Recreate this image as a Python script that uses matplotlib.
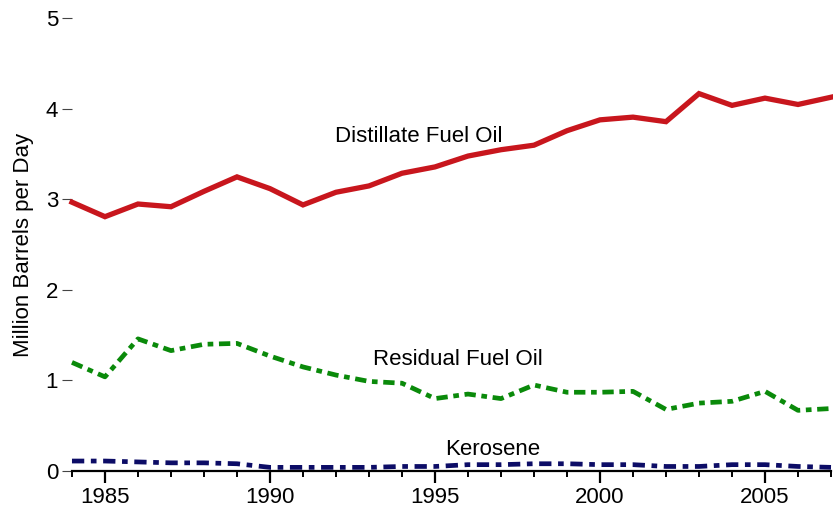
import matplotlib.pyplot as plt
import numpy as np
from matplotlib.ticker import MultipleLocator

plt.rcParams['font.family'] = ['Liberation Sans', 'DejaVu Sans']

# Annual product supplied, million barrels per day
years = np.arange(1984, 2008)
distillate = [2.97, 2.81, 2.95, 2.92, 3.09, 3.25, 3.12, 2.94, 3.08, 3.15, 3.29, 3.36,
              3.48, 3.55, 3.60, 3.76, 3.88, 3.91, 3.86, 4.17, 4.04, 4.12, 4.05, 4.13]
residual = [1.20, 1.04, 1.46, 1.33, 1.40, 1.41, 1.27, 1.15, 1.06, 0.99, 0.97, 0.80,
            0.85, 0.80, 0.95, 0.87, 0.87, 0.88, 0.68, 0.75, 0.77, 0.88, 0.67, 0.69]
kerosene = [0.11, 0.11, 0.10, 0.09, 0.09, 0.08, 0.04, 0.04, 0.04, 0.04, 0.05, 0.05,
            0.07, 0.07, 0.08, 0.08, 0.07, 0.07, 0.05, 0.05, 0.07, 0.07, 0.05, 0.04]

fig = plt.figure(figsize=(8.33, 5.11), dpi=100)
ax = fig.add_axes([0.0864, 0.0783, 0.9112, 0.8855])

ax.plot(years, distillate, color='#c8161d', linewidth=3.8, solid_joinstyle='miter', clip_on=False)
ax.plot(years, residual, color='#0a8a0a', linewidth=3.4, linestyle=(0, (2.4, 1.2, 1.2, 1.2)), clip_on=False)
ax.plot(years, kerosene, color='#0c0c66', linewidth=3.4, linestyle=(0, (2.6, 1.4, 1.2, 1.4)), clip_on=False)

ax.text(1994.5, 3.70, 'Distillate Fuel Oil', fontsize=16, ha='center', va='center')
ax.text(1995.7, 1.23, 'Residual Fuel Oil', fontsize=16, ha='center', va='center')
ax.text(1996.74, 0.24, 'Kerosene', fontsize=16, ha='center', va='center')

ax.set_xlim(1984, 2007)
ax.set_ylim(0, 5)
ax.set_ylabel('Million Barrels per Day', fontsize=16, labelpad=8)

ax.xaxis.set_major_locator(MultipleLocator(5))
ax.xaxis.set_minor_locator(MultipleLocator(1))
ax.set_yticks([0, 1, 2, 3, 4, 5])

for side in ['left', 'top', 'right']:
    ax.spines[side].set_visible(False)
ax.spines['bottom'].set_linewidth(1.6)

ax.tick_params(axis='x', which='major', length=8.5, width=1.6, labelsize=16, pad=3)
ax.tick_params(axis='x', which='minor', length=4, width=1.4)
ax.tick_params(axis='y', length=7, width=0.8, color='#444444', labelsize=16, pad=3)

fig.savefig('out.png', dpi=100)
